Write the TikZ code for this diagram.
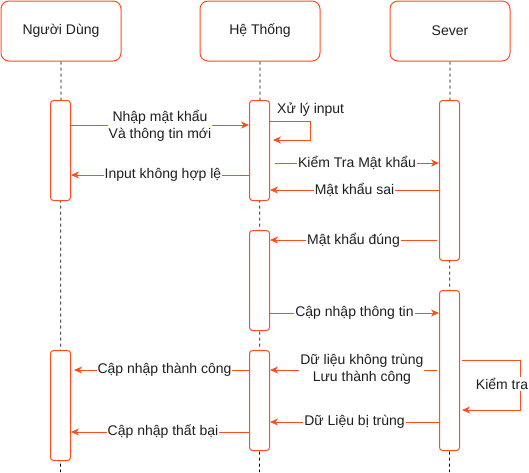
\documentclass[tikz,border=0pt]{standalone}
\usepackage{fontspec}
\setmainfont{Liberation Sans}
\usetikzlibrary{arrows.meta}
\definecolor{accent}{RGB}{255,77,30}
\definecolor{txt}{RGB}{30,30,30}
\tikzset{
  header/.style={draw=accent, line width=1pt, rounded corners=8pt, fill=white,
    minimum width=120pt, minimum height=60pt, inner sep=0pt, text=txt, anchor=north west},
  actbox/.style={draw=accent, line width=1pt, rounded corners=3pt, fill=white,
    minimum width=20pt, inner sep=0pt, anchor=north},
  life/.style={dashed, line width=0.8pt, black, dash pattern=on 3pt off 3pt},
  msg/.style={draw=accent, line width=1pt, -{Stealth[length=8pt,width=7pt,inset=2.5pt]}},
  lbl/.style={fill=white, text=txt, inner sep=1pt, align=center, font=\fontsize{14}{17}\selectfont},
}
\begin{document}
\begin{tikzpicture}[x=1pt,y=-1pt, font=\fontsize{14}{17}\selectfont]
\useasboundingbox (0,0) rectangle (529,472);
% headers
\node[header] (u) at (0.5,0.5) {Người Dùng};
\node[header] (s) at (199.5,0.5) {Hệ Thống};
\node[header] (v) at (389.5,0.5) {Sever};
% lifeline ends
\coordinate (ue) at (60.5,472);
\coordinate (se) at (259.5,472);
\coordinate (ve) at (449.5,472);
\draw[life] (u.south) -- (ue);
\draw[life] (s.south) -- (se);
\draw[life] (v.south) -- (ve);
% activation boxes
\node[actbox, minimum height=100pt] (L1) at (60.5,100) {};
\node[actbox, minimum height=110pt] (L2) at (60.5,350) {};
\node[actbox, minimum height=100pt] (M1) at (259.5,100) {};
\node[actbox, minimum height=100pt] (M2) at (259.5,230) {};
\node[actbox, minimum height=100pt] (M3) at (259.5,350) {};
\node[actbox, minimum height=160pt] (R1) at (449.5,100) {};
\node[actbox, minimum height=160pt] (R2) at (449.5,290) {};
% messages
\draw[msg] (L1.east |- 0,125) -- (M1.west |- 0,125)
  node[midway, lbl, yshift=-1pt] {Nhập mật khẩu\\Và thông tin mới};
\coordinate (x1) at (310,121);
\coordinate (x2) at (310,140);
\draw[msg] (M1.east |- x1) -- (x1) -- (x2) -- ([xshift=3pt]M1.east |- x2);
\node[lbl, anchor=west, fill=none] (xl) at (276,110) {Xử lý input};
\draw[msg] (M1.west |- 0,175) -- (L1.east |- 0,175)
  node[midway, lbl, xshift=3pt] {Input không hợp lệ};
\draw[msg] ([xshift=5pt]M1.east |- 0,163) -- (R1.west |- 0,163)
  node[midway, lbl] {Kiểm Tra Mật khẩu};
\draw[msg] (R1.west |- 0,190) -- (M1.east |- 0,190)
  node[midway, lbl] {Mật khẩu sai};
\draw[msg] ([xshift=-2pt]R1.west |- 0,240) -- (M2.east |- 0,240)
  node[midway, lbl] {Mật khẩu đúng};
\draw[msg] (M2.east |- 0,313) -- (R2.west |- 0,313)
  node[midway, lbl] {Cập nhập thông tin};
\draw[msg] ([xshift=-2pt]R2.west |- 0,370) -- (M3.east |- 0,370)
  node[pos=0.45, lbl, yshift=1pt] {Dữ liệu không trùng\\Lưu thành công};
\coordinate (k1) at (520,360);
\coordinate (k2) at (520,410);
\draw[msg] ([xshift=2pt]R2.east |- k1) -- (k1) -- (k2) -- ([xshift=2pt]R2.east |- k2);
\node[lbl] (kl) at (502,384) {Kiểm tra};
\draw[msg] (R2.west |- 0,422) -- (M3.east |- 0,422)
  node[midway, lbl] {Dữ Liệu bị trùng};
\draw[msg] (M3.west |- 0,370) -- ([xshift=3pt]L2.east |- 0,370)
  node[midway, lbl, xshift=3pt] {Cập nhập thành công};
\draw[msg] (M3.west |- 0,432) -- (L2.east |- 0,432)
  node[midway, lbl, xshift=3pt] {Cập nhập thất bại};
\end{tikzpicture}
\end{document}
